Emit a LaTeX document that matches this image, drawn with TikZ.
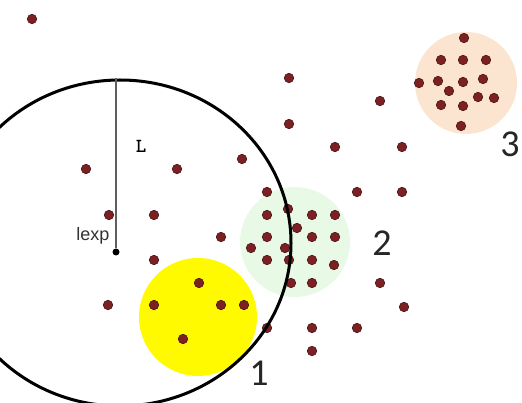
\documentclass[tikz,border=0pt]{standalone}
\usepackage{fontspec}
\setmainfont{Carlito}
\newfontfamily\lexpfont{Liberation Sans}
\usetikzlibrary{shapes.geometric}

\definecolor{dotred}{RGB}{125,32,36}
\definecolor{dotedge}{RGB}{70,20,20}
\definecolor{clyellow}{RGB}{255,250,0}
\definecolor{clgreen}{RGB}{232,250,230}
\definecolor{clpeach}{RGB}{252,229,208}
\definecolor{radline}{RGB}{95,95,95}

\begin{document}
\begin{tikzpicture}[x=1pt,y=-1pt,
        pt/.style={
            circle,
            fill=dotred,
            draw=dotedge,
            line width=0.6pt,
            inner sep=0pt,
            minimum size=9.5pt
        },
        cluster/.style={circle, inner sep=0pt},
        num/.style={font=\fontsize{38}{38}\selectfont, text=black!85}
    ]

    \useasboundingbox (0,0) rectangle (522,403);
    \clip (0,0) rectangle (522,403);

    % =========================
    % Clusters
    % =========================
    \node[cluster, fill=clyellow, minimum size=118pt] (c1) at (198,317) {};
    \node[cluster, fill=clgreen,  minimum size=110pt] (c2) at (295,242) {};
    \node[cluster, fill=clpeach,  minimum size=102pt] (c3) at (466,83)  {};

    % =========================
    % Points
    % =========================
    \foreach \x/\y [count=\i] in {
        32/19, 86/169, 177/169, 242/159, 289/78, 380/101, 289/124,
        335/147, 402/147, 267/192, 357/192, 402/192, 109/215, 154/215,
        221/237, 154/260, 108/305, 380/283, 404/307, 267/328, 312/328,
        357/328, 312/351,
        % cluster 2
        267/215, 288/209, 312/215, 335/215, 297/228, 267/237, 312/237,
        335/237, 251/248, 285/248, 267/260, 289/260, 312/260, 334/265,
        291/283, 312/283,
        % cluster 1
        199/283, 154/305, 221/305, 244/305, 183/339,
        % cluster 3
        464/38, 441/60, 463/60, 486/60, 419/83, 438/81, 463/82, 483/79,
        449/91, 478/97, 494/98, 441/105, 463/106, 461/126}
        \node[pt] (p\i) at (\x,\y) {};

    % =========================
    % Range
    % =========================
    \node[draw, ellipse, line width=3pt, inner sep=0pt,
          minimum width=342pt, minimum height=326pt] (range) at (120,243) {};

    \node[circle, fill=black, inner sep=0pt, minimum size=7pt] (lexp) at (116,252) {};
    \coordinate (top) at (lexp |- range.north);
    \draw[radline, line width=1.3pt] (lexp) -- (top);

    \node[font=\lexpfont\fontsize{18}{18}\selectfont, text=black!80] (lexplabel) at (93,236) {lexp};
    \node[font=\ttfamily\bfseries\fontsize{20}{20}\selectfont] (llabel) at (141,146) {L};

    % =========================
    % Labels
    % =========================
    \node[num] (n1) at (259,373) {1};
    \node[num] (n2) at (382,243) {2};
    \node[num] (n3) at (510,144) {3};

    \end{tikzpicture}
\end{document}
